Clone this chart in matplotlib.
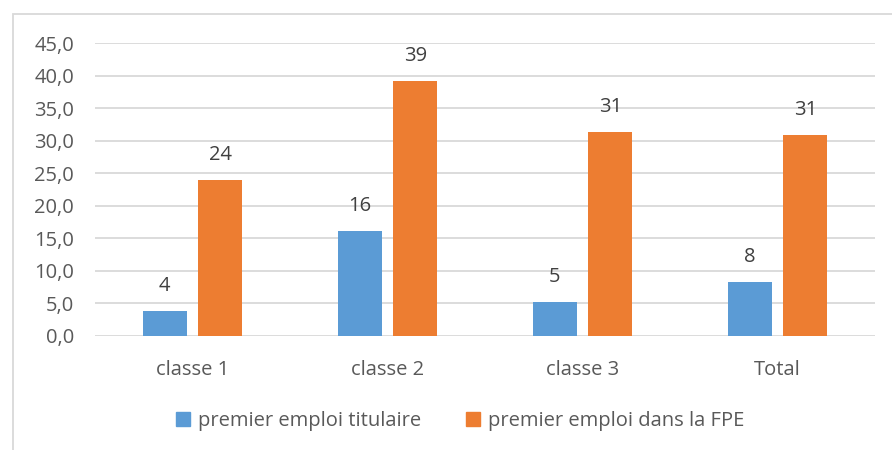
import numpy as np
import matplotlib
matplotlib.use("Agg")
import matplotlib.pyplot as plt
from matplotlib.patches import Rectangle, Patch
from matplotlib.ticker import FuncFormatter

# ── Data ──────────────────────────────────────────────────────────────────────
categories = ["classe 1", "classe 2", "classe 3", "Total"]
titulaire = [3.85, 16.1, 5.2, 8.35]
fpe = [24.0, 39.2, 31.3, 30.9]
series_names = ["premier emploi titulaire", "premier emploi dans la FPE"]

BLUE = "#5B9BD5"
ORANGE = "#ED7D31"
GRID = "#D9D9D9"
TXT = "#595959"
FS = 14.5

plt.rcParams["font.family"] = ["Open Sans", "DejaVu Sans"]

fig = plt.figure(figsize=(8.92, 4.5), dpi=100)
ax = fig.add_axes([95 / 892, 1 - 336 / 450, 780 / 892, (336 - 43.3) / 450])

x = np.arange(len(categories))
w = 0.225
off = 0.1425
b1 = ax.bar(x - off, titulaire, w, color=BLUE, zorder=3)
b2 = ax.bar(x + off, fpe, w, color=ORANGE, zorder=3)

for bars, vals in ((b1, titulaire), (b2, fpe)):
    for rect, v in zip(bars, vals):
        ax.annotate(f"{v:.0f}", (rect.get_x() + rect.get_width() / 2, v),
                    xytext=(0, 18), textcoords="offset points",
                    ha="center", va="center", fontsize=FS, color="#404040")

ax.set_xlim(-0.5, 3.5)
ax.set_ylim(0, 45)
ax.set_yticks(np.arange(0, 46, 5))
ax.yaxis.set_major_formatter(FuncFormatter(lambda v, p: f"{v:.1f}".replace(".", ",")))
ax.set_xticks(x)
ax.set_xticklabels(categories)
ax.tick_params(axis="both", length=0, labelsize=FS, labelcolor=TXT)
ax.tick_params(axis="y", pad=15)
ax.tick_params(axis="x", pad=17)
ax.grid(axis="y", color=GRID, linewidth=1.3, zorder=0)
for s in ax.spines.values():
    s.set_visible(False)

# outer chart frame (partially cropped, as in the reference)
fig.patches.append(Rectangle((13 / 892, -0.1), 1.2, 1 - 14 / 450 + 0.1,
                             transform=fig.transFigure, fill=False,
                             edgecolor=GRID, linewidth=1.3))

handles = [Patch(color=BLUE), Patch(color=ORANGE)]
fig.legend(handles, series_names, loc="center", bbox_to_anchor=(460 / 892, 1 - 421 / 450),
           ncol=2, frameon=False, fontsize=FS, labelcolor=TXT,
           handlelength=0.7, handleheight=0.7, handletextpad=0.4, columnspacing=2.2)

fig.savefig("out.png", dpi=100)
